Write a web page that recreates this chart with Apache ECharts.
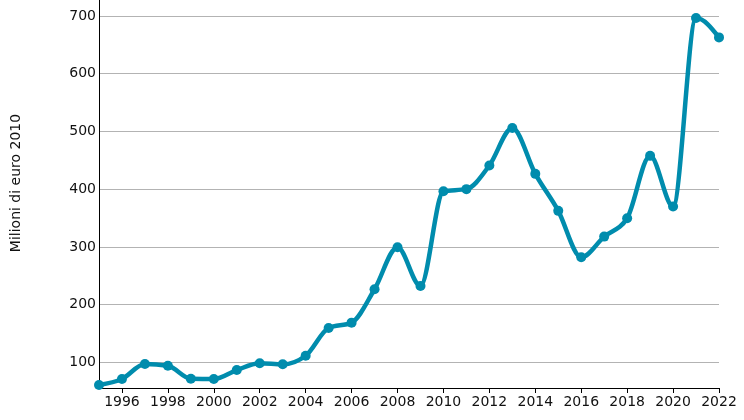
<!DOCTYPE html>
<html>
<head>
<meta charset="utf-8">
<script src="https://cdn.jsdelivr.net/npm/echarts@6/dist/echarts.min.js"></script>
<style>html,body{margin:0;padding:0;background:#fff}#c{width:744px;height:420px}</style>
</head>
<body>
<div id="c"></div>
<script>
const years = ['1995','1996','1997','1998','1999','2000','2001','2002','2003','2004','2005','2006','2007','2008','2009','2010','2011','2012','2013','2014','2015','2016','2017','2018','2019','2020','2021','2022'];
const values = [60.6,71,97,94,71.6,71,86.6,98.3,96.5,111.5,159.5,168.7,226.6,299.4,232.3,396.5,400,441,505.8,426.5,362.4,282,317.8,349.7,457.7,369.8,696.5,662.9];
const yAxisTitle = 'Milioni di euro 2010';

const LINE_COLOR = '#008cad';
const font = 'DejaVu Sans';

function sign(x){ return x < 0 ? -1 : 1; }
// monotone-X tangents (Steffen), computed on pixel coordinates
function tangents(pts){
  const n = pts.length, t = new Array(n);
  for (let i = 1; i < n - 1; i++) {
    const [x0,y0] = pts[i-1], [x1,y1] = pts[i], [x2,y2] = pts[i+1];
    const h0 = x1 - x0, h1 = x2 - x1;
    const s0 = (y1 - y0) / h0, s1 = (y2 - y1) / h1;
    const p = (s0 * h1 + s1 * h0) / (h0 + h1);
    t[i] = (sign(s0) + sign(s1)) * Math.min(Math.abs(s0), Math.abs(s1), 0.5 * Math.abs(p)) || 0;
  }
  const h0 = pts[1][0] - pts[0][0];
  t[0] = (3 * (pts[1][1] - pts[0][1]) / h0 - t[1]) / 2;
  const h1 = pts[n-1][0] - pts[n-2][0];
  t[n-1] = (3 * (pts[n-1][1] - pts[n-2][1]) / h1 - t[n-2]) / 2;
  return t;
}

const chart = echarts.init(document.getElementById('c'), null, {renderer:'canvas'});
chart.setOption({
  animation: false,
  grid: {left: 99, right: 25, top: 0, bottom: 32, containLabel: false},
  xAxis: {
    type: 'category',
    data: years,
    boundaryGap: false,
    axisLine: {show: true, lineStyle: {color: '#000', width: 1}},
    axisTick: {show: true, length: 5, lineStyle: {color: '#000'}, interval: function(i){return i % 2 === 1;}},
    axisLabel: {interval: function(i){return i % 2 === 1;}, color: '#111', fontFamily: font, fontSize: 14, margin: 7},
    splitLine: {show: false}
  },
  yAxis: {
    type: 'value',
    min: 55.5,
    max: 727.7,
    name: yAxisTitle,
    nameLocation: 'middle',
    nameGap: 76,
    nameTextStyle: {color: '#111', fontFamily: font, fontSize: 14, padding: [0,0,0,22]},
    axisLine: {show: true, lineStyle: {color: '#000', width: 1}},
    axisTick: {show: false},
    axisLabel: {color: '#111', fontFamily: font, fontSize: 14, margin: 3, showMinLabel: false, showMaxLabel: false},
    splitLine: {show: true, showMinLine: false, showMaxLine: false, lineStyle: {color: '#b3b3b3', width: 1}}
  },
  series: [{
    type: 'custom',
    clip: false,
    z: 2,
    data: values.map((v, i) => [i, v]),
    renderItem: function(params, api){
      const i = params.dataIndex;
      if (i >= values.length - 1) return null;
      const pts = values.map((v, k) => api.coord([k, v]));
      const t = tangents(pts);
      const [x0,y0] = pts[i], [x1,y1] = pts[i+1];
      const dx = (x1 - x0) / 3;
      return {
        type: 'bezierCurve',
        shape: {x1: x0, y1: y0, x2: x1, y2: y1, cpx1: x0 + dx, cpy1: y0 + dx * t[i], cpx2: x1 - dx, cpy2: y1 - dx * t[i+1]},
        style: {stroke: LINE_COLOR, lineWidth: 4.5, fill: null, lineCap: 'round', lineJoin: 'round'}
      };
    }
  }, {
    type: 'scatter',
    data: values,
    symbol: 'circle',
    symbolSize: 10,
    itemStyle: {color: LINE_COLOR, opacity: 1},
    clip: false,
    z: 3
  }]
});
</script>
</body>
</html>
